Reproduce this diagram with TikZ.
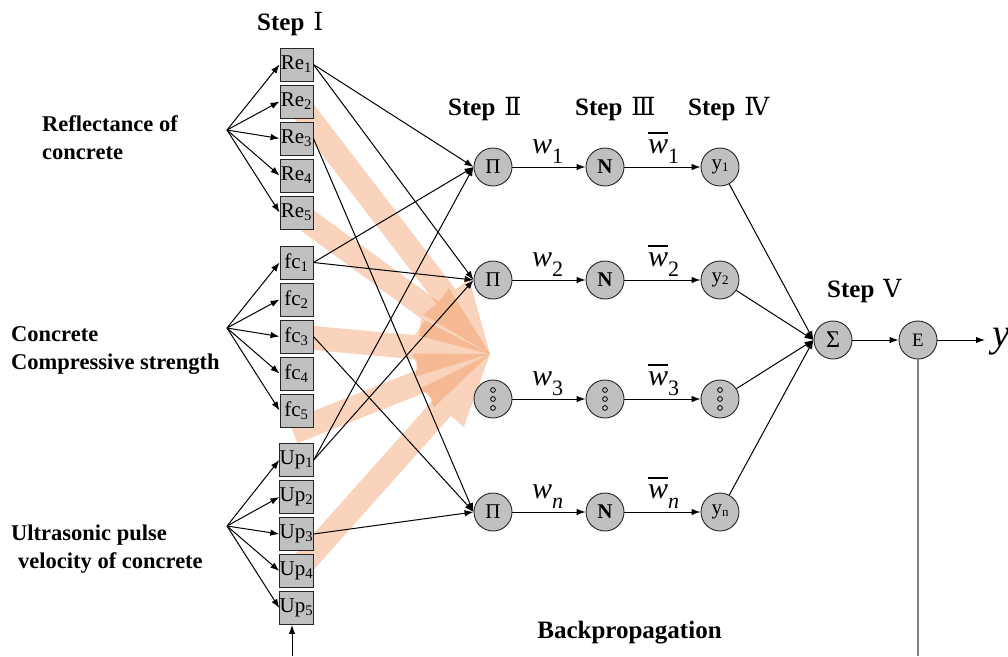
\documentclass[tikz,border=0pt]{standalone}
\usepackage{fontspec}
\setmainfont{Liberation Serif}
\newfontfamily\numfont{DejaVu Serif}
\usetikzlibrary{arrows.meta,calc}
\pgfdeclarelayer{background}
\pgfsetlayers{background,main}
\definecolor{boxgray}{RGB}{192,192,192}
\definecolor{fatcol}{RGB}{240,150,92}
\newcommand{\fs}[1]{\fontsize{#1}{#1}\selectfont}
\newcommand{\wsub}[1]{{\fs{30}\itshape w}{\fs{22}\raisebox{-10pt}{#1}}}
\newcommand{\wbarsub}[1]{\vbox{\hrule height 1.8pt\kern 5pt\hbox{\fs{30}\itshape w}}{\fs{22}\raisebox{-10pt}{#1}}}
\newcommand{\fatarrow}[2]{%
  \fill[fatcol, opacity=0.42]
    ($(#1)!12pt!90:(#2)$) -- ($(#2)!72pt!(#1)!12pt!90:(#2)$) -- ($(#2)!72pt!(#1)!29pt!90:(#2)$)
    -- (#2) -- ($(#2)!72pt!(#1)!29pt!-90:(#2)$) -- ($(#2)!72pt!(#1)!12pt!-90:(#2)$)
    -- ($(#1)!12pt!-90:(#2)$) -- cycle;}
\begin{document}
\begin{tikzpicture}[x=1pt,y=-1pt,
  inbox/.style={draw=black!85, fill=boxgray, line width=0.9pt, minimum width=33pt, minimum height=33pt, inner sep=0pt, font=\fs{21}},
  neuron/.style={circle, draw=black!85, fill=boxgray, line width=0.9pt, minimum size=38pt, inner sep=0pt},
  nlbl/.style={neuron, font=\fs{21}},
  conn/.style={-{Latex[length=9pt,width=6.5pt]}, line width=1pt},
  steplbl/.style={font=\bfseries\fs{25}, anchor=base west, inner sep=0pt},
  sidelbl/.style={font=\bfseries\fontsize{22.5}{27.5}\selectfont, align=left, anchor=base west, inner sep=0pt},
  wlbl/.style={anchor=base west, inner sep=0pt}]
\useasboundingbox (0,0) rectangle (1008,656);

% input boxes
\foreach \i/\y in {1/64.5,2/101.5,3/138.5,4/175.5,5/212.5}
  \node[inbox] (Re\i) at (296.5,\y) {Re\textsubscript{\i}};
\foreach \i/\y in {1/262.5,2/299.5,3/336.5,4/373.5,5/410.5}
  \node[inbox] (fc\i) at (296.5,\y) {fc\textsubscript{\i}};
\foreach \i/\y in {1/460,2/497,3/534,4/571,5/608}
  \node[inbox] (Up\i) at (296.5,\y) {Up\textsubscript{\i}};

% fan origins
\coordinate (reo) at (227,130);
\coordinate (fco) at (227,328);
\coordinate (upo) at (227,526);
\foreach \i in {1,...,5} {
  \draw[conn] (reo) -- (Re\i.west);
  \draw[conn] (fco) -- (fc\i.west);
  \draw[conn] (upo) -- (Up\i.west);
}

% neurons
\node[nlbl] (P1) at (493,167) {Π};
\node[nlbl] (P2) at (493,280) {Π};
\node[neuron] (P3) at (493,399) {};
\node[nlbl] (P4) at (493,512) {Π};
\node[nlbl] (N1) at (605,167) {\bfseries N};
\node[nlbl] (N2) at (605,280) {\bfseries N};
\node[neuron] (N3) at (605,399) {};
\node[nlbl] (N4) at (605,512) {\bfseries N};
\node[nlbl] (Y1) at (720,167) {y{\fs{13}\raisebox{-2pt}{1}}};
\node[nlbl] (Y2) at (720,280) {y{\fs{13}\raisebox{-2pt}{2}}};
\node[neuron] (Y3) at (720,399) {};
\node[nlbl] (Y4) at (720,512) {y{\fs{13}\raisebox{-2pt}{n}}};
\node[neuron, font=\fs{24}] (S) at (833,340) {Σ};
\node[neuron, font=\fs{19}] (E) at (918,340) {E};
\foreach \c in {P3,N3,Y3}
  \foreach \d in {-9,0,9}
    \draw[line width=0.8pt] ($(\c)+(0,\d)$) circle (2.4);

% input to product layer
\draw[conn] (Re1.east) -- (P1.west);
\draw[conn] (Re1.east) -- (P2.west);
\draw[conn] (fc1.east) -- (P1.west);
\draw[conn] (fc1.east) -- (P2.west);
\draw[conn] (Up1.east) -- (P1.west);
\draw[conn] (Up1.east) -- (P2.west);
\draw[conn] (Re3.east) -- (P4.west);
\draw[conn] (fc3.east) -- (P4.west);
\draw[conn] (Up3.east) -- (P4.west);

% layer connections
\foreach \i in {1,...,4} {
  \draw[conn] (P\i) -- (N\i);
  \draw[conn] (N\i) -- (Y\i);
  \draw[conn] (Y\i) -- (S.west);
}
\draw[conn] (S) -- (E);
\node[anchor=base west, inner xsep=7pt, inner ysep=0pt, font=\fs{40}\itshape] (yout) at (985,346) {y};
\draw[conn] (E.east) -- (E.east -| yout.west);
\coordinate (ebot) at (918,656);
\draw[line width=1.3pt, black!50] (E.south) -- (ebot);
\coordinate (bpin) at (292,656);
\draw[conn] (bpin) -- (bpin |- Up5.south);

% weight labels
\foreach \i/\y/\s in {1/153/1,2/266/2,3/385/3,4/498/{\itshape n}} {
  \node[wlbl] (wl\i) at (532,\y) {\wsub{\s}};
  \node[wlbl] (wb\i) at (648,\y) {\wbarsub{\s}};
}

% step labels
\node[steplbl] (st1) at (257,30) {Step\hspace{9pt}{\numfont\mdseries\fs{25}Ⅰ}};
\node[steplbl] (st2) at (448,115) {Step\hspace{9pt}{\numfont\mdseries\fs{25}Ⅱ}};
\node[steplbl] (st3) at (575,115) {Step\hspace{9pt}{\numfont\mdseries\fs{25}Ⅲ}};
\node[steplbl] (st4) at (688,115) {Step\hspace{9pt}{\numfont\mdseries\fs{25}Ⅳ}};
\node[steplbl] (st5) at (827,297) {Step\hspace{9pt}{\numfont\mdseries\fs{25}Ⅴ}};
\node[font=\bfseries\fs{25}, anchor=base, inner sep=0pt] (bp) at (629.5,638) {Backpropagation};

% side labels
\node[sidelbl] (lab1) at (42,159) {Reflectance of\\concrete};
\node[sidelbl] (lab2) at (11,369) {Concrete\\Compressive strength};
\node[sidelbl] (lab3) at (11,568) {Ultrasonic pulse\\\hspace*{7pt}velocity of concrete};

% fat orange arrows (background)
\coordinate (tip) at (490,354);
\coordinate (up1src) at (293,432);
\begin{pgfonlayer}{background}
  \fatarrow{Re2}{tip}
  \fatarrow{Re5}{tip}
  \fatarrow{fc3}{tip}
  \fatarrow{up1src}{tip}
  \fatarrow{Up4}{tip}
\end{pgfonlayer}
\end{tikzpicture}
\end{document}
